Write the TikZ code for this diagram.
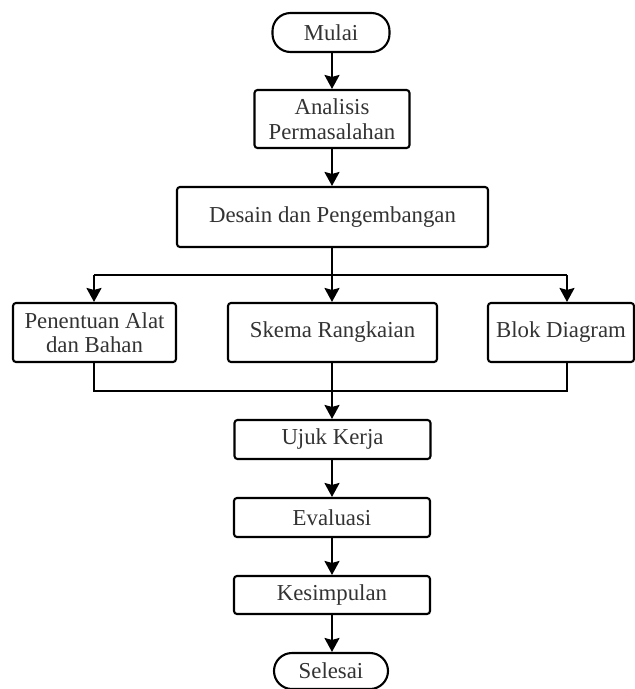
\documentclass[tikz,border=0pt]{standalone}
\usepackage{fontspec}
\setmainfont{Liberation Serif}
\usetikzlibrary{arrows.meta}
\begin{document}
\begin{tikzpicture}[x=1pt,y=-1pt,
  box/.style={draw=black, line width=2.1pt, rounded corners=3pt, inner sep=0pt,
    align=center, font=\fontsize{22.8}{24.5}\selectfont, text=black!80},
  term/.style={box, rounded corners=18pt},
  conn/.style={draw=black, line width=2.1pt},
  arr/.style={conn, -{Stealth[length=14pt,width=15pt,inset=2pt]}}]
\useasboundingbox (0,0) rectangle (635,689);
\node[term, minimum width=117pt, minimum height=39pt] (mulai) at (331,32.5) {Mulai};
\node[box, minimum width=155pt, minimum height=58pt] (analisis) at (332,119) {Analisis\\Permasalahan};
\node[box, minimum width=311pt, minimum height=60pt] (desain) at (332.5,217) {Desain dan Pengembangan};
\node[box, minimum width=163pt, minimum height=59pt] (penentuan) at (94.5,332.5) {Penentuan Alat\\dan Bahan};
\node[box, minimum width=209pt, minimum height=59pt] (skema) at (332.5,332.5) {Skema Rangkaian};
\node[box, minimum width=146pt, minimum height=59pt] (blok) at (561,332.5) {Blok Diagram};
\node[box, minimum width=196pt, minimum height=39pt] (ujuk) at (332.5,439.5) {Ujuk Kerja};
\node[box, minimum width=196pt, minimum height=39pt] (evaluasi) at (332,517.5) {Evaluasi};
\node[box, minimum width=196pt, minimum height=38pt] (kesimpulan) at (332,595) {Kesimpulan};
\node[term, minimum width=114pt, minimum height=36pt] (selesai) at (331,671) {Selesai};
\coordinate (split) at (332,275);
\coordinate (bl) at (94,275);
\coordinate (br) at (567,275);
\coordinate (ml) at (94,391);
\coordinate (mr) at (567,391);
\coordinate (mm) at (332,391);
\draw[arr] (mulai.south -| split) -- (analisis.north -| split);
\draw[arr] (analisis.south -| split) -- (desain.north -| split);
\draw[arr] (desain.south -| split) -- (skema.north -| split);
\draw[conn] (bl) -- (br);
\draw[arr] (bl) -- (bl |- penentuan.north);
\draw[arr] (br) -- (br |- blok.north);
\draw[conn] (ml |- penentuan.south) -- (ml) -- (mr) -- (mr |- blok.south);
\draw[arr] (skema.south -| split) -- (ujuk.north -| split);
\draw[arr] (ujuk.south -| split) -- (evaluasi.north -| split);
\draw[arr] (evaluasi.south -| split) -- (kesimpulan.north -| split);
\draw[arr] (kesimpulan.south -| split) -- (selesai.north -| split);
\end{tikzpicture}
\end{document}
